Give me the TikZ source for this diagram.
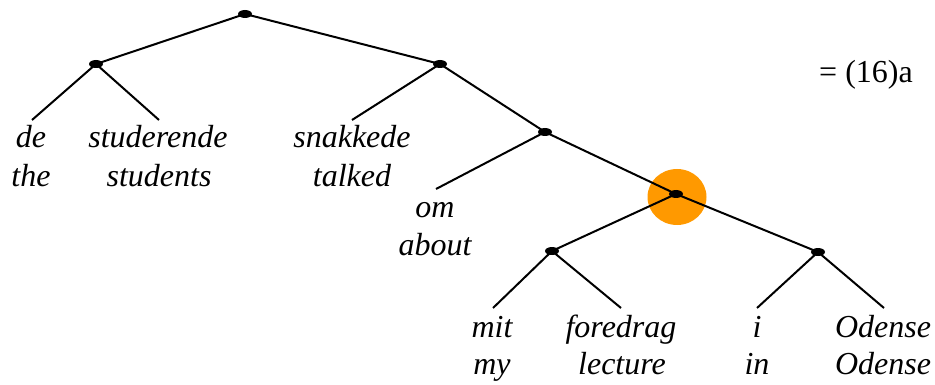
\documentclass[tikz,border=0pt]{standalone}
\usepackage{fontspec}
\setmainfont{Liberation Serif}
\usetikzlibrary{shapes.geometric}
\definecolor{hl}{HTML}{FF9900}
\begin{document}
\begin{tikzpicture}[x=1pt,y=-1pt,
  dot/.style={ellipse,fill=black,inner sep=0pt,minimum width=14pt,minimum height=8pt},
  br/.style={line width=2pt},
  word/.style={anchor=base,inner sep=0pt,font=\fontsize{32}{38}\selectfont\itshape},
  lbl/.style={anchor=base west,inner sep=0pt,font=\fontsize{32}{38}\selectfont}]
\useasboundingbox (0,0) rectangle (935,385);
\fill[hl] (677,197) ellipse [x radius=29.5pt, y radius=28pt];
% internal nodes
\node[dot] (r) at (245,14) {};
\node[dot] (a) at (96,64) {};
\node[dot] (b) at (440,64) {};
\node[dot] (c) at (545,132) {};
\node[dot] (d) at (676,194) {};
\node[dot] (e) at (552,251) {};
\node[dot] (f) at (818,252) {};
% leaf ends
\coordinate (l1) at (32,120);
\coordinate (l2) at (159,120);
\coordinate (l3) at (352,120);
\coordinate (l4) at (436,189);
\coordinate (l5) at (493,308);
\coordinate (l6) at (621,308);
\coordinate (l7) at (757,308);
\coordinate (l8) at (884,308);
% branches
\draw[br] (r.center) -- (a.center);
\draw[br] (r.center) -- (b.center);
\draw[br] (a.center) -- (l1);
\draw[br] (a.center) -- (l2);
\draw[br] (b.center) -- (l3);
\draw[br] (b.center) -- (c.center);
\draw[br] (c.center) -- (l4);
\draw[br] (c.center) -- (d.center);
\draw[br] (d.center) -- (e.center);
\draw[br] (d.center) -- (f.center);
\draw[br] (e.center) -- (l5);
\draw[br] (e.center) -- (l6);
\draw[br] (f.center) -- (l7);
\draw[br] (f.center) -- (l8);
% words
\node[word] (w1a) at (31,148) {de};
\node[word] (w1b) at (31,186) {the};
\node[word] (w2a) at (158,148) {studerende};
\node[word] (w2b) at (159,186) {students};
\node[word] (w3a) at (352,148) {snakkede};
\node[word] (w3b) at (352,186) {talked};
\node[word] (w4a) at (435,218) {om};
\node[word] (w4b) at (435,255) {about};
\node[word] (w5a) at (492,337) {mit};
\node[word] (w5b) at (492,374) {my};
\node[word] (w6a) at (621,337) {foredrag};
\node[word] (w6b) at (622,374) {lecture};
\node[word] (w7a) at (757,337) {i};
\node[word] (w7b) at (757,374) {in};
\node[word] (w8a) at (883,337) {Odense};
\node[word] (w8b) at (883,374) {Odense};
\node[lbl] (eq) at (819,83) {= (16)a};
\end{tikzpicture}
\end{document}
